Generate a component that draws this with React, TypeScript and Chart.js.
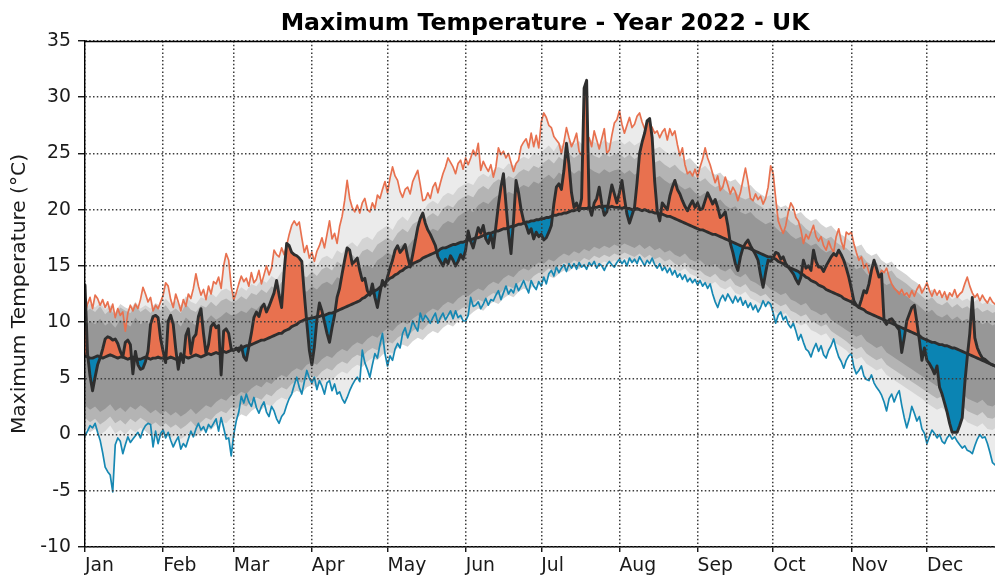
import React, { useEffect, useRef } from "react";
import { Chart, registerables } from "chart.js";

Chart.register(...registerables);

const TITLE = "Maximum Temperature - Year 2022 - UK";
const Y_LABEL = "Maximum Temperature (°C)";
const MONTHS = ["Jan", "Feb", "Mar", "Apr", "May", "Jun", "Jul", "Aug", "Sep", "Oct", "Nov", "Dec"];
const MONTH_START_DAYS = [0, 31, 59, 90, 120, 151, 181, 212, 243, 273, 304, 334];
const Y_MIN = -10;
const Y_MAX = 35;
const Y_STEP = 5;
const VISIBLE_LAST_DAY = 361;
const BAND_STEP_DAYS = 2;

// daily record highest maximum (orange line)
const RECORD_MAX = [
  10.8, 11.6, 12.2, 11.2, 12.4, 12.1, 11.5, 12.0, 11.3, 11.8, 10.9, 11.6, 10.4, 11.2, 10.6, 10.9, 9.2, 10.8, 11.5, 11.0, 11.6, 11.2, 12.0, 13.1, 12.5, 11.8, 12.2, 11.0, 11.5, 11.2, 11.8,
  12.4, 13.5, 13.2, 12.0, 11.3, 12.5, 11.8, 11.0, 12.0, 11.4, 12.5, 12.1, 13.0, 14.3, 13.2, 12.4, 12.9, 12.0, 13.2, 12.5, 13.6, 13.4, 14.0, 13.0, 15.0, 16.1, 15.5, 13.2,
  12.0, 12.6, 13.4, 14.1, 13.6, 13.9, 13.2, 14.4, 13.5, 13.8, 14.6, 13.4, 14.2, 15.0, 14.2, 14.8, 16.4, 16.0, 15.8, 16.6, 16.0, 16.8, 17.8, 18.6, 19.0, 18.6, 18.9, 17.5, 16.2, 16.8, 15.7,
  16.2, 15.4, 16.3, 16.8, 17.5, 16.6, 17.8, 19.0, 17.4, 17.9, 17.0, 18.5, 19.4, 20.8, 22.6, 21.0, 20.2, 19.8, 20.4, 19.7, 20.6, 21.0, 20.0, 19.8, 20.6, 20.1, 21.3, 21.0, 21.8, 22.5,
  21.5, 22.8, 23.8, 23.0, 22.6, 21.6, 21.1, 21.8, 22.0, 21.4, 22.5, 23.0, 23.5, 22.2, 20.8, 20.9, 21.5, 21.0, 22.0, 22.4, 21.5, 22.4, 23.2, 23.8, 24.6, 24.2, 23.8, 23.2, 24.1, 24.4, 23.6,
  24.6, 24.0, 24.6, 25.3, 24.8, 25.9, 23.5, 24.3, 23.8, 23.4, 24.0, 22.9, 23.8, 25.5, 24.9, 25.2, 24.6, 25.0, 24.2, 23.4, 24.1, 24.4, 25.6, 26.0, 26.3, 25.5, 26.8, 25.6, 26.6, 25.5,
  27.8, 28.6, 28.2, 27.5, 27.3, 26.5, 26.2, 25.9, 25.0, 26.0, 27.3, 26.4, 25.6, 26.1, 26.8, 25.2, 24.8, 25.3, 26.0, 26.4, 25.6, 27.0, 26.2, 25.4, 26.3, 27.2, 25.0, 25.3, 26.6, 27.7, 28.0,
  28.8, 27.6, 26.8, 27.5, 28.2, 27.3, 27.6, 28.3, 28.6, 27.8, 27.2, 26.8, 27.6, 27.3, 26.8, 27.0, 26.4, 26.9, 27.2, 26.2, 27.2, 26.6, 27.0, 25.8, 24.8, 25.5, 24.0, 23.2, 23.4, 23.0, 23.6,
  22.9, 23.8, 24.5, 25.5, 24.6, 24.0, 23.2, 22.4, 23.0, 21.7, 22.0, 22.9, 22.2, 21.4, 22.0, 21.6, 20.8, 21.5, 22.6, 23.7, 22.5, 21.0, 20.8, 21.4, 20.9, 21.2, 20.5, 21.0, 22.0, 23.9,
  23.2, 21.0, 19.0, 18.4, 17.9, 18.6, 19.8, 20.6, 20.2, 19.3, 19.0, 18.2, 17.0, 17.8, 17.4, 18.0, 18.6, 17.6, 17.2, 17.6, 16.8, 16.4, 17.2, 16.6, 16.2, 17.6, 18.3, 17.2, 16.5, 18.0, 17.8,
  18.0, 17.0, 16.2, 15.5, 15.8, 14.8, 15.2, 14.4, 14.0, 14.6, 13.8, 14.2, 14.6, 14.4, 14.8, 14.0, 13.4, 13.0, 12.8, 12.5, 12.9, 12.4, 12.6, 12.2, 12.8, 12.3, 12.9, 13.3, 12.6, 13.0,
  13.5, 12.8, 12.3, 12.9, 12.4, 12.8, 12.2, 12.7, 12.0, 12.6, 12.3, 12.9, 12.2, 12.5, 12.7, 13.4, 14.0, 13.2, 12.6, 12.2, 12.5, 11.9, 12.4, 12.0, 11.7, 12.2, 11.8, 11.6, 12.0, 11.8, 11.7,
];

// daily record lowest maximum (blue line)
const RECORD_MIN = [
  -0.1, 0.3, 0.8, 0.6, 1.0, 0.2, -0.5, -1.6, -2.9, -3.3, -3.6, -5.1, -0.9, -0.3, -0.6, -1.7, -0.9, -0.2, -0.7, -0.4, -0.1, 0.2, -0.3, 0.4, 0.8, 1.0, 0.9, -1.1, 0.3, -0.8, 0.1,
  0.4, -0.3, 0.2, -0.5, -1.1, -0.6, -0.2, -1.3, -0.8, -1.1, -0.4, 0.3, -0.2, 0.5, 1.0, 0.4, 0.7, 0.2, 0.9, 0.6, 1.0, 1.4, 0.3, 1.5, 0.6, -0.4, -0.3, -1.9,
  0.0, 1.2, 2.0, 3.4, 2.8, 3.6, 2.9, 2.5, 3.3, 2.4, 1.9, 2.5, 2.9, 2.0, 1.6, 2.5, 2.1, 1.4, 1.0, 1.6, 1.9, 2.6, 3.2, 3.6, 4.4, 5.1, 4.2, 3.6, 4.7, 5.7, 5.0,
  4.6, 5.1, 4.0, 4.8, 4.3, 3.6, 4.6, 4.8, 3.9, 4.5, 3.6, 3.8, 3.2, 2.8, 3.3, 3.9, 4.4, 4.8, 5.1, 4.7, 7.5, 6.4, 5.8, 5.1, 6.2, 7.2, 6.8, 8.0, 9.0, 7.2,
  6.1, 7.0, 6.6, 7.6, 8.1, 7.7, 9.0, 9.5, 8.6, 9.2, 10.1, 9.6, 9.2, 10.8, 10.1, 10.6, 10.3, 9.9, 10.4, 10.8, 9.9, 10.4, 10.8, 10.2, 10.6, 11.0, 10.3, 11.0, 10.4, 10.6, 10.1,
  10.1, 10.6, 12.2, 11.4, 11.5, 11.8, 11.2, 11.6, 12.1, 11.5, 12.0, 11.9, 12.4, 12.8, 12.0, 12.6, 13.2, 12.5, 12.9, 12.6, 13.4, 12.8, 13.2, 13.7, 13.1, 12.6, 13.7, 13.2, 12.9, 13.6,
  13.2, 14.0, 13.4, 14.3, 14.6, 14.1, 14.9, 14.4, 14.8, 15.1, 14.5, 15.2, 14.8, 15.2, 14.7, 15.3, 14.9, 15.1, 14.7, 15.3, 15.0, 15.4, 14.8, 15.2, 15.0, 14.6, 15.1, 15.4, 15.1, 14.9, 15.3,
  15.6, 15.2, 15.5, 15.0, 15.7, 15.3, 15.6, 15.2, 15.8, 15.4, 15.0, 15.5, 15.2, 15.7, 15.1, 14.8, 15.2, 14.6, 14.9, 14.4, 14.8, 14.2, 14.6, 14.0, 14.3, 13.8, 14.2, 13.6, 13.9, 13.5, 13.8,
  13.3, 13.7, 13.2, 13.5, 13.0, 13.4, 12.5, 11.8, 11.3, 12.0, 12.4, 11.9, 12.5, 12.1, 11.7, 12.3, 11.8, 12.2, 11.5, 11.9, 11.3, 11.7, 11.1, 11.5, 10.9, 11.3, 11.9, 11.4, 11.8, 11.6,
  10.8, 9.9, 10.6, 10.9, 10.2, 10.5, 9.8, 9.5, 9.9, 9.2, 8.4, 8.9, 8.2, 7.6, 7.4, 6.9, 7.6, 8.1, 7.4, 7.9, 7.1, 6.8, 7.5, 7.9, 8.5, 7.6, 6.9, 6.5, 5.9, 6.6, 7.0,
  7.2, 6.0, 5.4, 5.7, 6.1, 5.2, 4.9, 4.8, 5.3, 4.6, 4.2, 3.9, 3.5, 2.9, 2.1, 3.2, 3.6, 2.9, 3.5, 3.9, 2.6, 1.5, 0.6, 1.4, 2.5, 1.9, 1.2, 1.6, 0.5, 0.1,
  -0.8, -0.2, 0.4, 0.1, -0.3, 0.0, -0.6, -0.8, -0.3, 0.0, -0.4, -0.2, -0.6, -0.9, -1.2, -1.0, -1.4, -1.5, -1.7, -1.0, -0.4, 0.0, -0.3, -0.2, -0.8, -1.6, -2.5, -2.7, -2.2, -1.8, -1.5,
];

// daily long-term mean maximum
const MEAN = [
  7.0, 6.9, 6.8, 6.8, 6.9, 7.0, 6.9, 6.8, 6.9, 7.0, 7.1, 7.0, 6.9, 6.8, 6.9, 6.9, 6.8, 6.7, 6.8, 6.9, 6.8, 6.7, 6.7, 6.8, 6.9, 6.8, 6.7, 6.8, 6.8, 6.9, 6.8,
  6.8, 6.7, 6.8, 6.9, 6.8, 6.7, 6.8, 6.9, 7.0, 6.9, 6.8, 6.9, 7.0, 7.1, 7.0, 6.9, 7.0, 7.1, 7.2, 7.1, 7.2, 7.3, 7.2, 7.3, 7.4, 7.3, 7.4, 7.5,
  7.5, 7.6, 7.7, 7.6, 7.8, 7.9, 7.9, 8.0, 8.1, 8.2, 8.3, 8.4, 8.4, 8.5, 8.6, 8.7, 8.8, 8.9, 9.0, 9.0, 9.2, 9.3, 9.4, 9.6, 9.7, 9.8, 10.0, 10.1, 10.2, 10.3, 10.3,
  10.4, 10.4, 10.5, 10.5, 10.6, 10.6, 10.7, 10.8, 10.8, 10.9, 11.0, 11.1, 11.2, 11.3, 11.4, 11.5, 11.6, 11.7, 11.8, 11.9, 12.1, 12.2, 12.4, 12.5, 12.6, 12.8, 12.9, 13.1, 13.3, 13.5,
  13.7, 13.9, 14.0, 14.2, 14.3, 14.5, 14.6, 14.8, 14.9, 15.0, 15.2, 15.3, 15.4, 15.5, 15.7, 15.8, 15.9, 16.0, 16.1, 16.2, 16.3, 16.5, 16.6, 16.6, 16.7, 16.8, 16.9, 16.9, 17.0, 17.1, 17.1,
  17.2, 17.3, 17.3, 17.4, 17.5, 17.5, 17.6, 17.7, 17.8, 17.9, 17.9, 18.0, 18.1, 18.1, 18.2, 18.3, 18.3, 18.4, 18.5, 18.5, 18.6, 18.7, 18.7, 18.8, 18.9, 18.9, 19.0, 19.0, 19.1, 19.1,
  19.2, 19.2, 19.3, 19.3, 19.4, 19.5, 19.5, 19.6, 19.6, 19.7, 19.7, 19.8, 19.9, 19.9, 20.0, 20.0, 20.1, 20.1, 20.1, 20.2, 20.1, 20.2, 20.2, 20.3, 20.2, 20.3, 20.3, 20.2, 20.3, 20.2, 20.2,
  20.2, 20.1, 20.2, 20.1, 20.1, 20.0, 20.0, 20.1, 20.0, 19.9, 20.0, 19.9, 19.8, 19.8, 19.7, 19.7, 19.6, 19.6, 19.5, 19.4, 19.4, 19.3, 19.2, 19.1, 19.0, 18.9, 18.8, 18.7, 18.6, 18.5, 18.4,
  18.3, 18.2, 18.2, 18.1, 18.0, 17.9, 17.8, 17.8, 17.7, 17.6, 17.5, 17.4, 17.3, 17.2, 17.1, 17.0, 16.9, 16.8, 16.7, 16.6, 16.6, 16.5, 16.4, 16.3, 16.2, 16.1, 16.0, 15.9, 15.8, 15.8,
  15.7, 15.6, 15.4, 15.3, 15.2, 15.0, 14.9, 14.8, 14.7, 14.6, 14.5, 14.3, 14.2, 14.0, 13.9, 13.7, 13.6, 13.5, 13.3, 13.2, 13.1, 12.9, 12.8, 12.7, 12.6, 12.5, 12.4, 12.3, 12.1, 12.0, 11.9,
  11.8, 11.6, 11.5, 11.3, 11.2, 11.1, 10.9, 10.8, 10.7, 10.6, 10.5, 10.4, 10.3, 10.2, 10.1, 10.0, 9.9, 9.8, 9.7, 9.6, 9.5, 9.4, 9.3, 9.2, 9.1, 9.0, 8.9, 8.8, 8.6, 8.5,
  8.4, 8.3, 8.2, 8.2, 8.1, 8.0, 8.0, 7.9, 7.9, 7.8, 7.7, 7.7, 7.6, 7.5, 7.4, 7.3, 7.2, 7.1, 7.0, 6.9, 6.8, 6.7, 6.6, 6.5, 6.4, 6.3, 6.2, 6.1, 6.0, 5.9, 5.8,
];

// daily maximum temperature, year 2022
const Y2022 = [
  13.3, 7.2, 5.2, 3.9, 5.1, 6.2, 6.8, 7.6, 8.5, 8.7, 8.6, 8.4, 8.5, 8.1, 7.4, 6.9, 8.2, 8.4, 8.0, 5.4, 7.4, 6.2, 5.8, 5.9, 6.5, 7.4, 9.8, 10.5, 10.6, 10.4, 8.5,
  7.4, 6.4, 10.1, 10.6, 9.8, 7.6, 5.8, 7.2, 6.4, 8.8, 9.4, 7.2, 8.6, 8.9, 10.5, 11.2, 9.0, 7.2, 8.0, 9.6, 9.9, 9.5, 9.7, 5.3, 9.2, 9.4, 9.0, 7.6,
  7.5, 7.7, 7.4, 7.9, 6.9, 6.6, 7.8, 9.0, 10.4, 10.9, 10.5, 11.3, 11.6, 10.9, 11.4, 12.0, 12.6, 13.7, 12.4, 11.3, 14.5, 17.0, 16.8, 16.2, 16.0, 15.9, 15.7, 15.4, 12.5, 9.9, 7.5,
  6.2, 7.8, 10.2, 11.7, 11.0, 10.0, 9.0, 8.2, 9.5, 10.6, 12.2, 13.0, 14.3, 15.5, 16.6, 16.4, 15.2, 15.4, 15.7, 14.6, 13.7, 13.9, 12.8, 12.4, 13.4, 12.2, 11.3, 12.6, 13.7, 13.2,
  14.0, 14.8, 15.5, 16.4, 16.8, 16.2, 16.5, 16.9, 15.8, 14.9, 16.0, 17.2, 18.4, 19.2, 19.7, 18.8, 18.2, 17.8, 17.3, 16.8, 15.8, 15.4, 15.0, 15.6, 15.2, 15.9, 15.5, 15.0, 15.4, 16.0, 15.6,
  16.4, 18.1, 17.2, 16.6, 17.5, 18.4, 17.9, 18.6, 17.4, 17.0, 17.8, 16.6, 18.5, 20.4, 22.0, 23.2, 20.5, 17.9, 16.1, 19.0, 22.6, 21.5, 20.0, 19.0, 18.6, 17.9, 18.3, 17.4, 18.0, 17.6,
  17.8, 17.3, 17.5, 18.0, 18.6, 20.5, 22.0, 22.3, 21.8, 23.5, 25.9, 24.0, 21.5, 20.2, 20.6, 19.9, 21.0, 30.8, 31.5, 20.2, 19.5, 20.6, 21.0, 22.0, 20.5, 19.5, 19.8, 21.0, 22.2, 21.4, 20.6,
  21.5, 22.6, 21.0, 19.6, 18.8, 19.5, 20.2, 22.4, 25.0, 26.0, 26.8, 27.9, 28.1, 26.4, 22.5, 19.9, 19.0, 20.6, 20.3, 20.0, 21.2, 22.0, 22.6, 21.8, 21.4, 20.8, 20.3, 19.9, 20.4, 20.8, 20.2,
  20.6, 20.0, 20.1, 20.8, 21.5, 21.0, 20.5, 20.9, 20.2, 19.3, 19.5, 19.8, 18.6, 17.0, 16.2, 15.2, 14.6, 15.8, 16.6, 17.0, 17.3, 16.8, 16.4, 16.0, 15.5, 14.2, 13.1, 14.4, 15.5, 15.4,
  15.7, 16.2, 16.1, 15.6, 15.8, 15.2, 14.9, 14.6, 14.3, 13.8, 13.4, 14.0, 15.5, 14.8, 15.0, 14.6, 16.4, 15.4, 14.9, 14.9, 14.5, 15.0, 15.4, 15.8, 16.1, 15.9, 16.4, 16.0, 15.5, 14.8, 14.0,
  13.0, 11.9, 11.5, 11.3, 12.0, 12.8, 12.6, 13.4, 14.6, 15.5, 14.8, 14.0, 14.3, 10.1, 9.8, 10.2, 10.3, 10.0, 9.6, 9.3, 7.3, 8.6, 10.1, 10.7, 11.3, 11.5, 10.0, 8.4, 6.6, 7.7,
  6.6, 6.3, 5.9, 5.4, 6.1, 4.2, 3.6, 2.8, 2.0, 1.0, 0.2, 0.2, 0.2, 0.8, 1.5, 4.5, 6.9, 9.0, 12.2, 8.6, 7.7, 7.2, 6.8, 6.7, 6.5, 6.3, 6.2, 6.1, 6.0, 5.9, 5.8,
];

// percentile bands, one value every 2 days (day 0, 2, 4, ... 364)
const BAND_LIGHT_LO = [
  0.6, 0.2, 0.5, 0.0, 0.3, 0.8, 0.1, 0.4, 0.0, 0.5, 0.2, 0.6, 0.3, -0.1, 0.2, -0.2,
  0.1, -0.3, 0.0, -0.4, -0.1, 0.3, -0.2, 0.2, 0.6, 0.4, 0.9, 1.2, 1.0, 1.5,
  1.4, 1.8, 1.6, 2.1, 2.4, 2.2, 2.7, 2.5, 3.0, 3.3, 3.1, 3.6, 3.9, 3.7, 4.2,
  4.4, 4.2, 4.7, 5.0, 4.8, 5.3, 5.6, 5.4, 5.9, 6.2, 6.0, 6.5, 6.8, 6.6, 7.1,
  7.4, 7.2, 7.7, 8.0, 7.8, 8.3, 8.6, 8.4, 8.9, 9.2, 9.0, 9.5, 9.8, 9.6, 10.1, 10.4,
  10.5, 10.9, 11.2, 11.0, 11.5, 11.8, 11.6, 12.1, 12.4, 12.2, 12.7, 13.0, 12.8, 13.3, 13.6,
  13.7, 14.1, 13.9, 14.3, 14.6, 14.5, 14.9, 14.7, 15.1, 14.9, 15.3, 15.1, 15.4, 15.2, 15.5,
  15.4, 15.7, 15.5, 15.3, 15.6, 15.2, 15.5, 15.1, 15.3, 14.9, 15.1, 14.7, 14.5, 14.8, 14.3, 14.1,
  13.9, 13.5, 13.3, 13.6, 13.1, 12.9, 13.2, 12.6, 12.4, 12.7, 12.1, 11.9, 11.6, 11.8, 11.3,
  10.9, 10.6, 10.8, 10.2, 10.0, 9.7, 9.9, 9.3, 9.1, 8.8, 9.0, 8.4, 8.1, 7.8, 7.5,
  7.0, 6.7, 6.9, 6.3, 6.0, 5.7, 5.9, 5.3, 5.0, 4.7, 4.4, 4.1, 3.8, 3.5, 3.2,
  2.8, 2.5, 2.2, 2.4, 1.9, 1.7, 1.4, 1.6, 1.1, 0.9, 0.7, 1.0, 0.5, 0.4, 0.7, 0.3,
];
const BAND_LIGHT_HI = [
  11.2, 11.6, 11.3, 11.7, 11.1, 11.5, 10.9, 11.6, 11.3, 11.1, 11.8, 11.2, 11.5, 11.2, 11.7, 11.4,
  12.1, 11.6, 11.9, 11.5, 12.3, 11.8, 11.6, 12.2, 12.0, 12.6, 12.2, 12.8, 13.0, 12.7,
  12.6, 13.1, 12.8, 13.4, 13.2, 13.8, 13.5, 14.1, 13.8, 14.5, 14.2, 14.8, 14.7, 15.2, 15.0,
  15.5, 15.0, 15.7, 15.9, 15.6, 16.4, 16.1, 16.8, 17.1, 16.7, 17.4, 17.6, 17.3, 18.0, 18.3,
  18.6, 18.2, 19.0, 19.4, 19.0, 19.8, 20.1, 19.8, 20.5, 20.8, 20.5, 21.2, 21.5, 21.3, 21.9, 22.2,
  22.4, 22.2, 22.9, 23.2, 22.9, 23.5, 23.8, 23.6, 24.1, 23.9, 24.4, 24.7, 24.5, 25.0, 24.8,
  25.3, 25.7, 25.2, 25.9, 25.5, 26.2, 25.8, 26.1, 25.6, 26.3, 26.0, 25.8, 26.2, 25.9, 26.1,
  26.2, 25.8, 26.1, 25.7, 26.0, 25.5, 25.8, 25.4, 25.6, 25.2, 24.9, 25.2, 24.7, 24.4, 24.6, 24.1,
  23.6, 23.9, 23.4, 23.1, 23.3, 22.8, 22.5, 22.7, 22.2, 22.0, 22.2, 21.7, 21.4, 21.1, 21.3,
  20.6, 20.2, 20.4, 19.9, 19.6, 19.8, 19.3, 19.0, 19.2, 18.7, 18.4, 18.6, 18.1, 17.8, 17.5,
  17.1, 16.7, 16.9, 16.2, 15.9, 16.1, 15.5, 15.2, 15.4, 14.8, 14.5, 14.2, 13.8, 13.5, 13.1,
  12.6, 12.9, 12.4, 12.2, 12.5, 12.0, 12.3, 11.9, 12.1, 11.7, 12.0, 11.6, 11.8, 11.5, 11.7, 11.4,
];
const BAND_MID_LO = [
  1.5, 1.1, 1.4, 0.9, 1.2, 1.6, 1.0, 1.3, 0.9, 1.4, 1.1, 1.5, 1.2, 0.8, 1.1, 0.7,
  1.0, 0.6, 0.9, 0.5, 0.8, 1.2, 0.7, 1.1, 1.5, 1.3, 1.8, 2.1, 1.9, 2.4,
  2.3, 2.7, 2.5, 3.0, 3.3, 3.1, 3.6, 3.4, 3.9, 4.2, 4.0, 4.5, 4.8, 4.6, 5.1,
  5.3, 5.1, 5.6, 5.9, 5.7, 6.2, 6.5, 6.3, 6.8, 7.1, 6.9, 7.4, 7.7, 7.5, 8.0,
  8.3, 8.1, 8.6, 8.9, 8.7, 9.2, 9.5, 9.3, 9.8, 10.1, 9.9, 10.4, 10.7, 10.5, 11.0, 11.3,
  11.3, 11.7, 12.0, 11.8, 12.3, 12.6, 12.4, 12.9, 13.2, 13.0, 13.5, 13.8, 13.6, 14.1, 14.4,
  14.4, 14.8, 14.6, 15.0, 15.3, 15.1, 15.5, 15.3, 15.7, 15.5, 15.9, 15.7, 16.0, 15.8, 16.1,
  15.9, 16.2, 16.0, 15.8, 16.1, 15.7, 16.0, 15.6, 15.8, 15.4, 15.6, 15.2, 15.0, 15.3, 14.8, 14.6,
  14.6, 14.2, 14.0, 14.3, 13.8, 13.6, 13.9, 13.3, 13.1, 13.4, 12.8, 12.6, 12.3, 12.5, 12.0,
  11.7, 11.4, 11.6, 11.0, 10.8, 10.5, 10.7, 10.1, 9.9, 9.6, 9.8, 9.2, 8.9, 8.6, 8.3,
  7.9, 7.6, 7.8, 7.2, 6.9, 6.6, 6.8, 6.2, 5.9, 5.6, 5.3, 5.0, 4.7, 4.4, 4.1,
  3.8, 3.5, 3.2, 3.4, 2.9, 2.7, 2.4, 2.6, 2.1, 1.9, 1.7, 2.0, 1.5, 1.4, 1.7, 1.3,
];
const BAND_MID_HI = [
  10.8, 11.2, 10.9, 11.4, 10.7, 11.1, 10.6, 11.3, 11.0, 10.8, 11.5, 10.9, 11.2, 10.8, 11.4, 11.0,
  11.5, 10.9, 11.2, 10.8, 11.6, 11.1, 10.9, 11.5, 11.3, 11.8, 11.4, 11.9, 12.1, 11.8,
  11.9, 12.3, 12.0, 12.6, 12.4, 12.9, 12.6, 13.2, 12.9, 13.6, 13.3, 13.8, 13.7, 14.2, 14.0,
  14.5, 14.1, 14.7, 14.9, 14.6, 15.4, 15.1, 15.7, 16.0, 15.6, 16.3, 16.5, 16.2, 16.9, 17.2,
  17.5, 17.2, 17.9, 18.3, 18.0, 18.7, 19.0, 18.7, 19.4, 19.7, 19.4, 20.1, 20.4, 20.2, 20.8, 21.1,
  21.3, 21.1, 21.8, 22.1, 21.8, 22.4, 22.7, 22.5, 23.0, 22.8, 23.3, 23.6, 23.4, 23.9, 23.7,
  24.2, 24.5, 24.1, 24.7, 24.4, 25.0, 24.6, 24.9, 24.5, 25.1, 24.8, 24.6, 25.0, 24.7, 24.9,
  25.0, 24.6, 24.9, 24.5, 24.8, 24.3, 24.6, 24.2, 24.4, 24.0, 23.7, 24.0, 23.5, 23.2, 23.4, 22.9,
  22.5, 22.8, 22.3, 22.0, 22.2, 21.7, 21.4, 21.6, 21.1, 20.9, 21.1, 20.6, 20.3, 20.0, 20.2,
  19.6, 19.2, 19.4, 18.9, 18.6, 18.8, 18.3, 18.0, 18.2, 17.7, 17.4, 17.6, 17.1, 16.8, 16.6,
  16.2, 15.8, 16.0, 15.4, 15.1, 15.3, 14.7, 14.4, 14.6, 14.0, 13.7, 13.4, 13.0, 12.7, 12.3,
  11.9, 12.2, 11.7, 11.5, 11.8, 11.3, 11.6, 11.2, 11.4, 11.0, 11.3, 10.9, 11.1, 10.8, 11.0, 10.7,
];
const BAND_DARK_LO = [
  2.6, 2.2, 2.5, 2.0, 2.3, 2.7, 2.1, 2.4, 2.0, 2.5, 2.2, 2.6, 2.3, 1.9, 2.2, 1.8,
  2.1, 1.7, 2.0, 1.6, 1.9, 2.3, 1.8, 2.2, 2.6, 2.4, 2.9, 3.2, 3.0, 3.5,
  3.4, 3.8, 3.6, 4.1, 4.4, 4.2, 4.7, 4.5, 5.0, 5.3, 5.1, 5.6, 5.9, 5.7, 6.2,
  6.4, 6.2, 6.7, 7.0, 6.8, 7.3, 7.6, 7.4, 7.9, 8.2, 8.0, 8.5, 8.8, 8.6, 9.1,
  9.4, 9.2, 9.7, 10.0, 9.8, 10.3, 10.6, 10.4, 10.9, 11.2, 11.0, 11.5, 11.8, 11.6, 12.1, 12.4,
  12.3, 12.7, 13.0, 12.8, 13.3, 13.6, 13.4, 13.9, 14.2, 14.0, 14.5, 14.8, 14.6, 15.0, 15.3,
  15.2, 15.6, 15.4, 15.8, 16.1, 15.9, 16.3, 16.1, 16.5, 16.3, 16.7, 16.5, 16.8, 16.6, 16.9,
  16.7, 17.0, 16.8, 16.6, 16.9, 16.5, 16.8, 16.4, 16.6, 16.2, 16.4, 16.0, 15.8, 16.1, 15.6, 15.4,
  15.5, 15.1, 14.9, 15.2, 14.7, 14.5, 14.8, 14.2, 14.0, 14.3, 13.7, 13.5, 13.2, 13.4, 12.9,
  12.7, 12.4, 12.6, 12.0, 11.8, 11.5, 11.7, 11.1, 10.9, 10.6, 10.8, 10.2, 9.9, 9.6, 9.3,
  9.0, 8.7, 8.9, 8.3, 8.0, 7.7, 7.9, 7.3, 7.0, 6.7, 6.4, 6.1, 5.8, 5.5, 5.2,
  4.9, 4.6, 4.3, 4.5, 4.0, 3.8, 3.5, 3.7, 3.2, 3.0, 2.8, 3.1, 2.6, 2.5, 2.8, 2.4,
];
const BAND_DARK_HI = [
  9.6, 10.1, 9.8, 10.3, 9.7, 10.0, 9.5, 10.2, 9.9, 9.6, 10.4, 9.8, 10.1, 9.7, 10.2, 9.9,
  10.3, 9.8, 10.1, 9.6, 10.4, 10.0, 9.7, 10.3, 10.1, 10.6, 10.2, 10.5, 10.9, 10.6,
  10.7, 11.0, 10.8, 11.3, 11.1, 11.6, 11.4, 11.9, 11.7, 12.3, 12.0, 12.5, 12.4, 12.9, 12.7,
  13.2, 12.9, 13.4, 13.6, 13.3, 14.0, 13.8, 14.3, 14.6, 14.2, 14.9, 15.1, 14.8, 15.5, 15.8,
  16.2, 15.9, 16.6, 16.9, 16.7, 17.3, 17.6, 17.4, 18.0, 18.3, 18.1, 18.7, 19.0, 18.8, 19.4, 19.7,
  20.0, 19.8, 20.4, 20.7, 20.5, 21.0, 21.3, 21.1, 21.6, 21.4, 21.9, 22.2, 22.0, 22.5, 22.3,
  22.8, 23.1, 22.7, 23.3, 23.0, 23.6, 23.2, 23.5, 23.1, 23.7, 23.4, 23.2, 23.6, 23.3, 23.5,
  23.6, 23.2, 23.5, 23.1, 23.4, 22.9, 23.2, 22.8, 23.0, 22.6, 22.3, 22.6, 22.1, 21.8, 22.0, 21.5,
  21.2, 21.5, 21.0, 20.7, 20.9, 20.4, 20.1, 20.3, 19.8, 19.6, 19.8, 19.3, 19.0, 18.7, 18.9,
  18.4, 18.0, 18.2, 17.7, 17.4, 17.6, 17.1, 16.8, 17.0, 16.5, 16.2, 16.4, 15.9, 15.6, 15.4,
  15.1, 14.7, 14.9, 14.3, 14.0, 14.2, 13.6, 13.3, 13.5, 12.9, 12.6, 12.3, 11.9, 11.6, 11.2,
  10.8, 11.1, 10.6, 10.4, 10.7, 10.2, 10.5, 10.1, 10.3, 9.9, 10.2, 9.8, 10.0, 9.7, 9.9, 9.6,
];

const COLORS = {
  recordBand: "#ebebeb",
  lightBand: "#d4d4d4",
  midBand: "#b4b4b4",
  darkBand: "#979797",
  recordMaxLine: "#e8714f",
  recordMinLine: "#1688b3",
  above: "#e8714f",
  below: "#0b84b3",
  black: "#2e2e2e",
  grid: "#3c3c3c",
  text: "#1a1a1a",
};

const FONT = '"DejaVu Sans", Verdana, sans-serif';

const daily = (arr: number[]) => arr.map((y, i) => ({ x: i, y }));
const sampled = (arr: number[], step: number) => arr.map((y, i) => ({ x: i * step, y }));

const overlayPlugin = {
  id: "overlay",
  afterDraw(chart: any) {
    const { ctx, chartArea } = chart;
    const xs = chart.scales.x;
    ctx.save();
    ctx.strokeStyle = "#000";
    ctx.lineWidth = 1.4;
    ctx.beginPath();
    ctx.moveTo(chartArea.left, chartArea.top + 0.5);
    ctx.lineTo(chartArea.right, chartArea.top + 0.5);
    ctx.stroke();
    ctx.fillStyle = "#000";
    ctx.font = `bold 23.6px ${FONT}`;
    ctx.textAlign = "center";
    ctx.textBaseline = "alphabetic";
    ctx.fillText(TITLE, xs.getPixelForValue(182.5), 30);
    ctx.restore();
  },
};

export default function App() {
  const ref = useRef<HTMLCanvasElement | null>(null);

  useEffect(() => {
    if (!ref.current) return;
    const noLine = { borderWidth: 0, pointRadius: 0 };
    const gridDash = [1.5, 2.3];
    const chart = new Chart(ref.current, {
      type: "line",
      data: {
        datasets: [
          { label: "rmin-base", data: daily(RECORD_MIN), ...noLine, fill: false, order: 20 },
          { label: "record band", data: daily(RECORD_MAX), ...noLine, fill: { target: 0, above: COLORS.recordBand, below: COLORS.recordBand }, order: 19 },
          { label: "light lo", data: sampled(BAND_LIGHT_LO, BAND_STEP_DAYS), ...noLine, fill: false, order: 18 },
          { label: "light band", data: sampled(BAND_LIGHT_HI, BAND_STEP_DAYS), ...noLine, fill: { target: 2, above: COLORS.lightBand, below: COLORS.lightBand }, order: 17 },
          { label: "mid lo", data: sampled(BAND_MID_LO, BAND_STEP_DAYS), ...noLine, fill: false, order: 16 },
          { label: "mid band", data: sampled(BAND_MID_HI, BAND_STEP_DAYS), ...noLine, fill: { target: 4, above: COLORS.midBand, below: COLORS.midBand }, order: 15 },
          { label: "dark lo", data: sampled(BAND_DARK_LO, BAND_STEP_DAYS), ...noLine, fill: false, order: 14 },
          { label: "dark band", data: sampled(BAND_DARK_HI, BAND_STEP_DAYS), ...noLine, fill: { target: 6, above: COLORS.darkBand, below: COLORS.darkBand }, order: 13 },
          { label: "record max", data: daily(RECORD_MAX), borderColor: COLORS.recordMaxLine, borderWidth: 1.7, pointRadius: 0, fill: false, order: 12 },
          { label: "record min", data: daily(RECORD_MIN), borderColor: COLORS.recordMinLine, borderWidth: 1.7, pointRadius: 0, fill: false, order: 11 },
          { label: "mean", data: daily(MEAN), borderColor: COLORS.black, borderWidth: 2.9, pointRadius: 0, fill: false, order: 9 },
          { label: "2022", data: daily(Y2022), borderColor: COLORS.black, borderWidth: 2.9, pointRadius: 0, fill: { target: 10, above: COLORS.above, below: COLORS.below }, order: 10 },
        ],
      },
      options: {
        responsive: false,
        devicePixelRatio: 1,
        animation: false,
        events: [],
        layout: { padding: { top: 41, left: 0, right: 0, bottom: 0 } },
        elements: {
          line: { tension: 0, borderJoinStyle: "round", borderCapStyle: "round" },
          point: { radius: 0 },
        },
        plugins: { legend: { display: false }, tooltip: { enabled: false }, title: { display: false } },
        scales: {
          x: {
            type: "linear",
            min: 0,
            max: VISIBLE_LAST_DAY,
            afterFit: (s: any) => { s.height = 29; },
            afterBuildTicks: (s: any) => { s.ticks = MONTH_START_DAYS.map((v) => ({ value: v })); },
            ticks: {
              align: "start",
              padding: 3,
              color: COLORS.text,
              font: { family: FONT, size: 18.8 },
              maxRotation: 0,
              autoSkip: false,
              callback: (_v: any, i: number) => MONTHS[i],
            },
            grid: { color: COLORS.grid, lineWidth: 1.5, tickLength: 5, tickColor: "#000", tickWidth: 1.3, z: 1 },
            border: { display: true, color: "#000", width: 1.4, dash: gridDash, z: 1 },
          },
          y: {
            min: Y_MIN,
            max: Y_MAX,
            afterFit: (s: any) => { s.width = 85; },
            ticks: {
              stepSize: Y_STEP,
              padding: 7,
              color: COLORS.text,
              font: { family: FONT, size: 18.8 },
            },
            grid: { color: COLORS.grid, lineWidth: 1.5, tickLength: 7, tickColor: "#000", tickWidth: 1.3, z: 1 },
            border: { display: true, color: "#000", width: 1.4, dash: gridDash, z: 1 },
            title: {
              display: true,
              text: Y_LABEL,
              color: COLORS.text,
              font: { family: FONT, size: 20.2 },
              padding: { top: 8, bottom: 0 },
            },
          },
        },
      },
      plugins: [overlayPlugin],
    } as any);
    return () => chart.destroy();
  }, []);

  return (
    <div style={{ position: "absolute", left: 0, top: 0, width: 995, height: 576, background: "#fff" }}>
      <canvas ref={ref} width={995} height={576} style={{ display: "block" }} />
    </div>
  );
}
